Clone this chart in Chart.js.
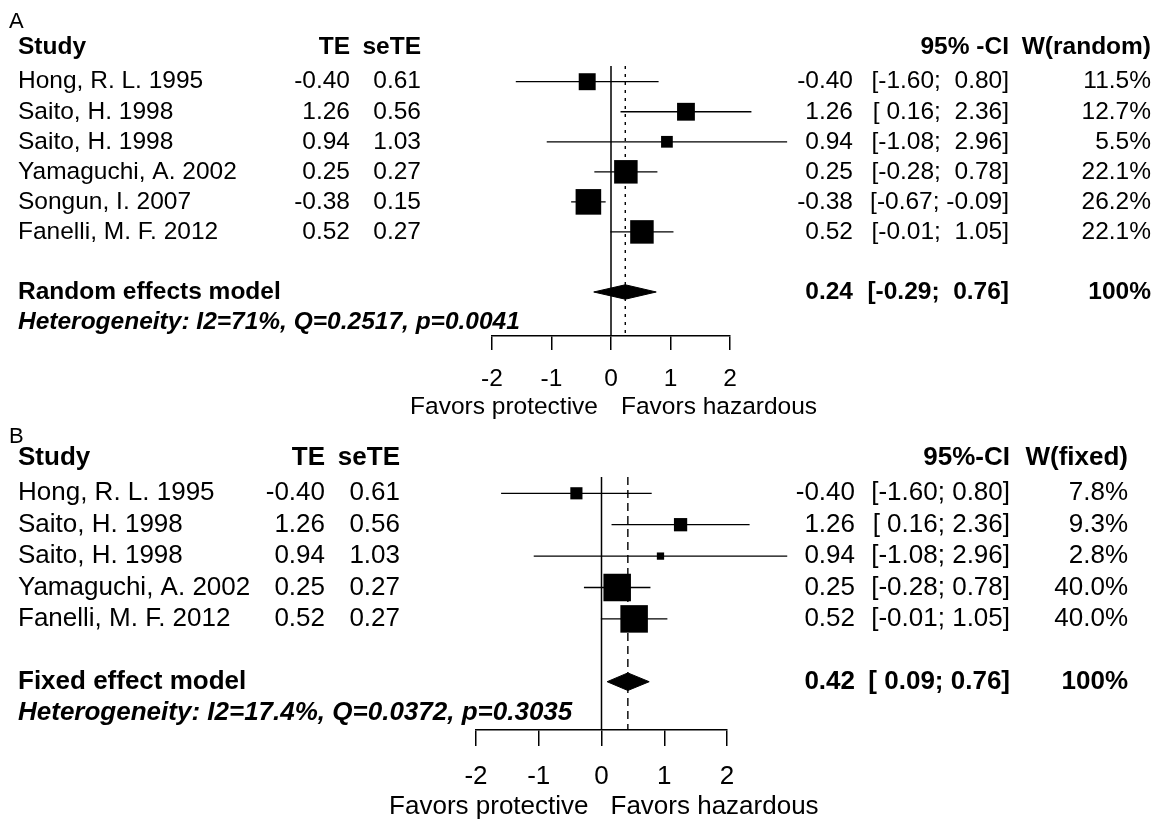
<!DOCTYPE html>
<html>
<head>
<meta charset="utf-8">
<script src="https://cdn.jsdelivr.net/npm/chart.js@4.4.1/dist/chart.umd.min.js"></script>
<style>
  html, body { margin: 0; padding: 0; background: #fff; }
  #wrap { position: relative; width: 1156px; height: 820px; }
  canvas { position: absolute; left: 0; }
  #panelA { top: 0; }
  #panelB { top: 410px; }
</style>
</head>
<body>
<div id="wrap">
  <canvas id="panelA" width="1156" height="425"></canvas>
  <canvas id="panelB" width="1156" height="410"></canvas>
</div>
<script>
// Panel A - random effects model
const studiesA = ["Hong, R. L. 1995", "Saito, H. 1998", "Saito, H. 1998", "Yamaguchi, A. 2002", "Songun, I. 2007", "Fanelli, M. F. 2012"];
const teA = [-0.40, 1.26, 0.94, 0.25, -0.38, 0.52];
const seteA = [0.61, 0.56, 1.03, 0.27, 0.15, 0.27];
const lowerA = [-1.60, 0.16, -1.08, -0.28, -0.67, -0.01];
const upperA = [0.80, 2.36, 2.96, 0.78, -0.09, 1.05];
const weightA = [11.5, 12.7, 5.5, 22.1, 26.2, 22.1];
const pooledA = [0.24, -0.29, 0.76]; // estimate, lower, upper
const modelA = "Random effects model";
const hetA = "Heterogeneity: I2=71%, Q=0.2517, p=0.0041";

// Panel B - fixed effect model
const studiesB = ["Hong, R. L. 1995", "Saito, H. 1998", "Saito, H. 1998", "Yamaguchi, A. 2002", "Fanelli, M. F. 2012"];
const teB = [-0.40, 1.26, 0.94, 0.25, 0.52];
const seteB = [0.61, 0.56, 1.03, 0.27, 0.27];
const lowerB = [-1.60, 0.16, -1.08, -0.28, -0.01];
const upperB = [0.80, 2.36, 2.96, 0.78, 1.05];
const weightB = [7.8, 9.3, 2.8, 40.0, 40.0];
const pooledB = [0.42, 0.09, 0.76];
const modelB = "Fixed effect model";
const hetB = "Heterogeneity: I2=17.4%, Q=0.0372, p=0.3035";

const tickValues = [-2, -1, 0, 1, 2];
const FONT = "'Liberation Sans', Arial, sans-serif";

// pad numbers in a column to the same width, like R does
function padCol(vals) {
  const s = vals.map(v => v.toFixed(2));
  const w = Math.max(...s.map(t => t.length));
  return s.map(t => " ".repeat(w - t.length) + t);
}

function makePanel(id, d, lay) {
  const n = d.studies.length;
  const sumRow = n + 1, hetRow = n + 2;
  const lo = padCol(d.lower.concat([d.pooled[1]]));
  const hi = padCol(d.upper.concat([d.pooled[2]]));

  const ciSets = d.studies.map((s, i) => ({
    data: [{ x: d.lower[i], y: i }, { x: d.upper[i], y: i }],
    showLine: true, borderColor: "#000", borderWidth: 1.3, pointRadius: 0, clip: false
  }));
  const h = lay.diamondH;
  const est = d.pooled[0];

  const datasets = [
    {
      data: d.te.map((v, i) => ({ x: v, y: i })),
      pointStyle: "rect",
      pointRadius: ctx => lay.sqScale * Math.sqrt(d.weight[ctx.dataIndex]) / Math.SQRT2,
      backgroundColor: "#000", borderWidth: 0, clip: false
    },
    {
      data: [
        { x: d.pooled[1], y: sumRow }, { x: est, y: sumRow - h },
        { x: d.pooled[2], y: sumRow }, { x: est, y: sumRow + h },
        { x: d.pooled[1], y: sumRow }
      ],
      showLine: true, fill: "shape", backgroundColor: "#000", borderColor: "#000",
      borderWidth: 1, pointRadius: 0, clip: false
    },
    ...ciSets,
    {
      data: [{ x: est, y: lay.yMin }, { x: est, y: lay.yMax }],
      showLine: true, borderColor: "#000", borderWidth: 1.4, borderDash: lay.dash, pointRadius: 0
    },
    {
      data: [{ x: 0, y: lay.yMin }, { x: 0, y: lay.yMax }],
      showLine: true, borderColor: "#000", borderWidth: 1.5, pointRadius: 0
    }
  ];

  const textPlugin = {
    id: "forestText",
    afterDraw(chart) {
      const c = chart.ctx;
      const ys = chart.scales.y, xs = chart.scales.x;
      const fs = lay.font;
      const Y = r => ys.getPixelForValue(r);
      const put = (t, x, y, align, style) => {
        c.font = (style || "") + " " + fs + "px " + FONT;
        c.textAlign = align;
        c.fillText(t, x, y);
      };
      c.save();
      c.fillStyle = "#000";
      c.textBaseline = "middle";

      c.font = lay.labelSize + "px " + FONT;
      c.textAlign = "left";
      c.fillText(lay.label, 9, lay.labelY);

      const hy = Y(lay.headerRow);
      put("Study", 18, hy, "left", "bold");
      put("TE", lay.cols.te, hy, "right", "bold");
      put("seTE", lay.cols.se, hy, "right", "bold");
      put(lay.ciHead, lay.cols.ci, hy, "right", "bold");
      put(lay.wHead, lay.cols.w, hy, "right", "bold");

      d.studies.forEach((s, i) => {
        const y = Y(i);
        put(s, 18, y, "left");
        put(d.te[i].toFixed(2), lay.cols.te, y, "right");
        put(d.sete[i].toFixed(2), lay.cols.se, y, "right");
        put(d.te[i].toFixed(2), lay.cols.est, y, "right");
        put("[" + lo[i] + ";" + lay.sep + hi[i] + "]", lay.cols.ci, y, "right");
        put(d.weight[i].toFixed(1) + "%", lay.cols.w, y, "right");
      });

      const sy = Y(sumRow);
      put(d.model, 18, sy, "left", "bold");
      put(est.toFixed(2), lay.cols.est, sy, "right", "bold");
      put("[" + lo[n] + ";" + lay.sep + hi[n] + "]", lay.cols.ci, sy, "right", "bold");
      put("100%", lay.cols.w, sy, "right", "bold");

      put(d.het, 18, Y(hetRow), "left", "italic bold");

      const x0 = xs.getPixelForValue(0);
      put("Favors protective", x0 - lay.favGap[0], lay.favY, "right");
      put("Favors hazardous", x0 + lay.favGap[1], lay.favY, "left");
      c.restore();
    }
  };

  return new Chart(document.getElementById(id), {
    type: "scatter",
    data: { datasets },
    options: {
      responsive: false,
      animation: false,
      layout: { padding: lay.pad },
      plugins: { legend: { display: false }, tooltip: { enabled: false } },
      scales: {
        x: {
          type: "linear", min: -2, max: 2,
          afterBuildTicks: s => { s.ticks = tickValues.map(v => ({ value: v })); },
          afterFit: s => { s.height = lay.axisH; },
          ticks: { color: "#000", font: { size: lay.font, family: FONT }, padding: lay.tickPad, maxRotation: 0, autoSkip: false },
          grid: { drawOnChartArea: false, drawTicks: true, tickLength: lay.tickLen, color: "#000", lineWidth: 1.5 },
          border: { display: true, color: "#000", width: 1.5 }
        },
        y: { type: "linear", display: false, reverse: true, min: lay.yMin, max: lay.yMax }
      }
    },
    plugins: [textPlugin]
  });
}

makePanel("panelA",
  { studies: studiesA, te: teA, sete: seteA, lower: lowerA, upper: upperA, weight: weightA, pooled: pooledA, model: modelA, het: hetA },
  {
    pad: { left: 492, right: 426, top: 66, bottom: 29 }, axisH: 60, tickLen: 14, tickPad: 15,
    yMin: -0.523, yMax: 8.465, headerRow: -1.15, diamondH: 0.24, sqScale: 5.0, dash: [3, 5],
    font: 24.5, labelSize: 22, label: "A", labelY: 22, favY: 407, favGap: [13, 10],
    cols: { te: 350, se: 421, est: 853, ci: 1009, w: 1151 }, ciHead: "95% -CI", wHead: "W(random)", sep: " "
  });

makePanel("panelB",
  { studies: studiesB, te: teB, sete: seteB, lower: lowerB, upper: upperB, weight: weightB, pooled: pooledB, model: modelB, het: hetB },
  {
    pad: { left: 476, right: 429, top: 67, bottom: 30 }, axisH: 60, tickLen: 16, tickPad: 15,
    yMin: -0.519, yMax: 7.538, headerRow: -1.12, diamondH: 0.28, sqScale: 4.35, dash: [8, 5],
    font: 26, labelSize: 22, label: "B", labelY: 27, favY: 397, favGap: [13, 9],
    cols: { te: 325, se: 400, est: 855, ci: 1010, w: 1128 }, ciHead: "95%-CI", wHead: "W(fixed)", sep: " "
  });
</script>
</body>
</html>
